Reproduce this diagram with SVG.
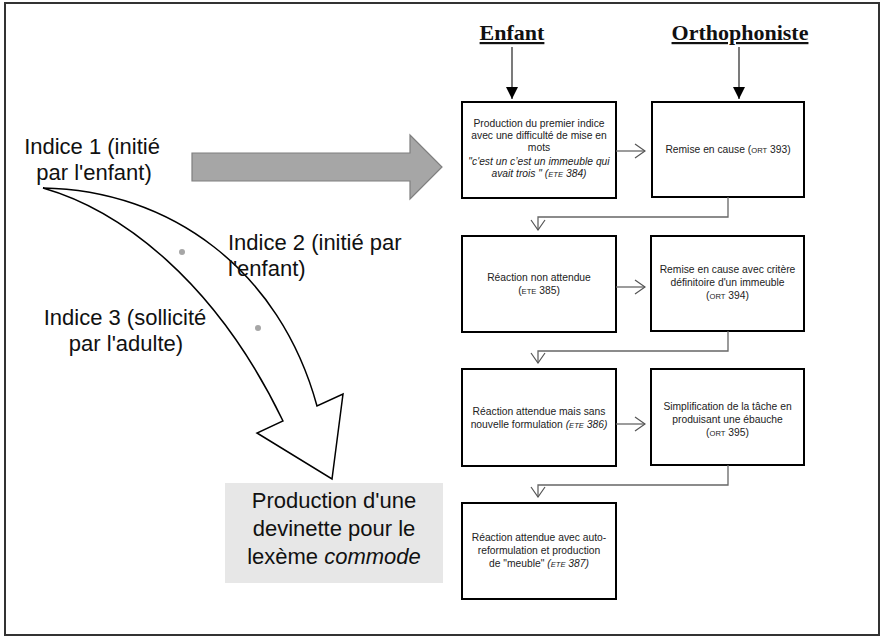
<svg xmlns="http://www.w3.org/2000/svg" width="883" height="639" viewBox="0 0 883 639">
<style>
.box{fill:#fff;stroke:#000;stroke-width:2}
.bt{font-family:"Liberation Sans",Arial,sans-serif;font-size:10.3px;fill:#222;text-anchor:middle}
.sc{font-size:7.6px}
.big{font-family:"Liberation Sans",Arial,sans-serif;font-size:22px;fill:#111}
.hdr{font-family:"Liberation Serif","Times New Roman",serif;font-size:22px;font-weight:bold;text-decoration:underline;fill:#111;text-anchor:middle}
.conn{fill:none;stroke:#666;stroke-width:1.3}
.hconn{fill:none;stroke:#222;stroke-width:1.2}
</style>
<defs>
<marker id="open" markerUnits="userSpaceOnUse" markerWidth="12" markerHeight="16" refX="10" refY="7" orient="auto" viewBox="-1 -1 12 16">
<path d="M0,0 L10,7 L0,14" fill="none" stroke="#555" stroke-width="1.2"/>
</marker>
<marker id="solid" markerUnits="userSpaceOnUse" markerWidth="14" markerHeight="14" refX="12" refY="6" orient="auto" viewBox="0 0 14 14">
<path d="M0,0 L12,6 L0,12 Z" fill="#000"/>
</marker>
</defs>
<rect x="5" y="3" width="874" height="632" fill="#fff" stroke="#333" stroke-width="2"/>

<g id="header-enfant"><text class="hdr" x="512" y="40">Enfant</text></g>
<g id="header-orthophoniste"><text class="hdr" x="740" y="40">Orthophoniste</text></g>

<g id="grey-arrow">
<polygon points="192,153 410,153 410,135 442,167 410,199 410,181 192,181" fill="#a6a6a6" stroke="#7f7f7f" stroke-width="1.2"/>
</g>

<g id="curved-arrow">
<path d="M43,188 C170,190 280,270 317,406 L343,394 L332,479 L257,433 L283,421 C215,280 120,210 43,188 Z" fill="#fff" stroke="#000" stroke-width="1.5" stroke-linejoin="miter"/>
<circle cx="182" cy="252" r="3" fill="#a6a6a6"/>
<circle cx="258" cy="328" r="3" fill="#a6a6a6"/>
</g>

<g id="label-indice1">
<text class="big" x="92" y="154" text-anchor="middle">Indice 1 (initié</text>
<text class="big" x="94" y="180" text-anchor="middle">par l'enfant)</text>
</g>
<g id="label-indice2">
<text class="big" x="228" y="250">Indice 2 (initié par</text>
<text class="big" x="228" y="276">l'enfant)</text>
</g>
<g id="label-indice3">
<text class="big" x="125" y="325" text-anchor="middle">Indice 3 (sollicité</text>
<text class="big" x="126" y="351" text-anchor="middle">par l'adulte)</text>
</g>

<g id="production-devinette">
<rect x="225" y="483" width="218" height="100" fill="#e7e7e7"/>
<text class="big" x="334" y="508" text-anchor="middle">Production d'une</text>
<text class="big" x="334" y="536" text-anchor="middle">devinette pour le</text>
<text class="big" x="334" y="564" text-anchor="middle">lexème <tspan font-style="italic">commode</tspan></text>
</g>

<g id="box-ete384">
<rect class="box" x="462" y="102" width="154" height="96"/>
<text class="bt" x="539" y="127">Production du premier indice</text>
<text class="bt" x="539" y="139">avec une difficulté de mise en</text>
<text class="bt" x="539" y="151">mots</text>
<text class="bt" x="539" y="165" font-style="italic">"c'est un c’est un immeuble qui</text>
<text class="bt" x="539" y="177" font-style="italic">avait trois " (<tspan class="sc">ETE</tspan> 384)</text>
</g>
<g id="box-ort393">
<rect class="box" x="652" y="102" width="152" height="95"/>
<text class="bt" x="728" y="153">Remise en cause (<tspan class="sc">ORT</tspan> 393)</text>
</g>
<g id="box-ete385">
<rect class="box" x="462" y="236" width="154" height="96"/>
<text class="bt" x="539" y="281">Réaction non attendue</text>
<text class="bt" x="539" y="294">(<tspan class="sc">ETE</tspan> 385)</text>
</g>
<g id="box-ort394">
<rect class="box" x="651" y="236" width="153" height="95"/>
<text class="bt" x="727.5" y="273">Remise en cause avec critère</text>
<text class="bt" x="727.5" y="286">définitoire d'un immeuble</text>
<text class="bt" x="727.5" y="299">(<tspan class="sc">ORT</tspan> 394)</text>
</g>
<g id="box-ete386">
<rect class="box" x="462" y="369" width="154" height="97"/>
<text class="bt" x="539" y="415">Réaction attendue mais sans</text>
<text class="bt" x="539" y="428">nouvelle formulation <tspan font-style="italic">(<tspan class="sc">ETE</tspan> 386)</tspan></text>
</g>
<g id="box-ort395">
<rect class="box" x="651" y="369" width="153" height="96"/>
<text class="bt" x="727.5" y="410">Simplification de la tâche en</text>
<text class="bt" x="727.5" y="423">produisant une ébauche</text>
<text class="bt" x="727.5" y="436">(<tspan class="sc">ORT</tspan> 395)</text>
</g>
<g id="box-ete387">
<rect class="box" x="462" y="503" width="154" height="96"/>
<text class="bt" x="539" y="541">Réaction attendue avec  auto-</text>
<text class="bt" x="539" y="554">reformulation et production</text>
<text class="bt" x="539" y="567">de "meuble" <tspan font-style="italic">(<tspan class="sc">ETE</tspan> 387)</tspan></text>
</g>

<g id="connectors">
<line class="hconn" x1="512" y1="47" x2="512" y2="99" marker-end="url(#solid)"/>
<line class="hconn" x1="739" y1="47" x2="739" y2="99" marker-end="url(#solid)"/>
<line class="conn" x1="616" y1="151" x2="645" y2="151" marker-end="url(#open)"/>
<line class="conn" x1="616" y1="287" x2="645" y2="287" marker-end="url(#open)"/>
<line class="conn" x1="616" y1="424" x2="645" y2="424" marker-end="url(#open)"/>
<polyline class="conn" points="728,197 728,217 538,217 538,230" marker-end="url(#open)"/>
<polyline class="conn" points="728,331 728,351 538,351 538,363" marker-end="url(#open)"/>
<polyline class="conn" points="728,465 728,485 538,485 538,497" marker-end="url(#open)"/>
</g>
</svg>
